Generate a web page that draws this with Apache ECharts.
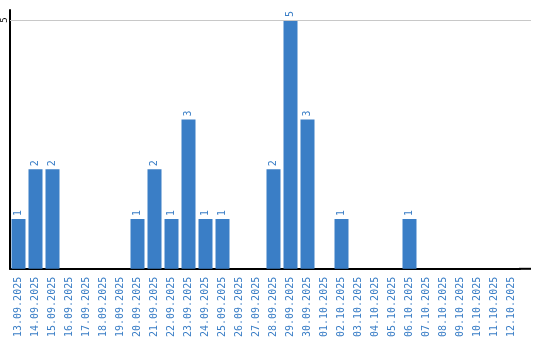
<!DOCTYPE html>
<html><head><meta charset="utf-8">
<script src="https://cdn.jsdelivr.net/npm/echarts@6/dist/echarts.min.js"></script>
<style>html,body{margin:0;padding:0;background:#fff}#c{width:540px;height:340px}</style>
</head><body><div id="c"></div>
<script>
const categories = ['13.09.2025','14.09.2025','15.09.2025','16.09.2025','17.09.2025','18.09.2025','19.09.2025','20.09.2025','21.09.2025','22.09.2025','23.09.2025','24.09.2025','25.09.2025','26.09.2025','27.09.2025','28.09.2025','29.09.2025','30.09.2025','01.10.2025','02.10.2025','03.10.2025','04.10.2025','05.10.2025','06.10.2025','07.10.2025','08.10.2025','09.10.2025','10.10.2025','11.10.2025','12.10.2025'];
const values = [1,2,2,0,0,0,0,1,2,1,3,1,1,0,0,2,5,3,0,1,0,0,0,1,0,0,0,0,0,0];
const gridValue = 5;
const chart = echarts.init(document.getElementById('c'));
chart.setOption({
  animation: false,
  grid: {left: 10, right: 20, top: 10, bottom: 70, containLabel: false},
  xAxis: {
    type: 'category', data: categories,
    axisLine: {lineStyle: {color: '#000', width: 2}},
    axisTick: {show: false},
    axisLabel: {rotate: 90, interval: 0, color: '#3a7ec6', fontFamily: 'DejaVu Sans Mono', fontSize: 10, margin: 8}
  },
  yAxis: {
    type: 'value', min: 0, max: 5.2, interval: 5,
    axisLine: {show: true, lineStyle: {color: '#000', width: 2}},
    axisTick: {show: false},
    splitLine: {show: false},
    axisLabel: {rotate: 90, color: '#000', fontFamily: 'DejaVu Sans Mono', fontSize: 9, margin: 1,
      formatter: v => (v === 5 ? '5' : '')}
  },
  series: [{
    type: 'bar', data: values, barWidth: 14,
    itemStyle: {color: '#3a7ec6'},
    label: {show: true, position: 'top', rotate: 90, align: 'left', verticalAlign: 'middle', distance: 3,
      color: '#3a7ec6', fontFamily: 'DejaVu Sans Mono', fontSize: 10,
      formatter: p => (p.value > 0 ? String(p.value) : '')},
    markLine: {silent: true, symbol: 'none', label: {show: false},
      lineStyle: {color: '#c8c8c8', type: 'solid', width: 1},
      data: [{yAxis: gridValue}]}
  }]
});
// extend the axis line and the grid line to the right edge, using the library's scale
const yBase = chart.convertToPixel({yAxisIndex: 0}, 0);
const yGrid = chart.convertToPixel({yAxisIndex: 0}, gridValue);
chart.setOption({graphic: [
  {type: 'line', shape: {x1: 519, y1: yBase, x2: 531, y2: yBase}, style: {stroke: '#000', lineWidth: 2}, z: 10},
  {type: 'line', shape: {x1: 519, y1: Math.round(yGrid) + 0.5, x2: 531, y2: Math.round(yGrid) + 0.5}, style: {stroke: '#c8c8c8', lineWidth: 1}, z: 1}
]});
</script></body></html>
